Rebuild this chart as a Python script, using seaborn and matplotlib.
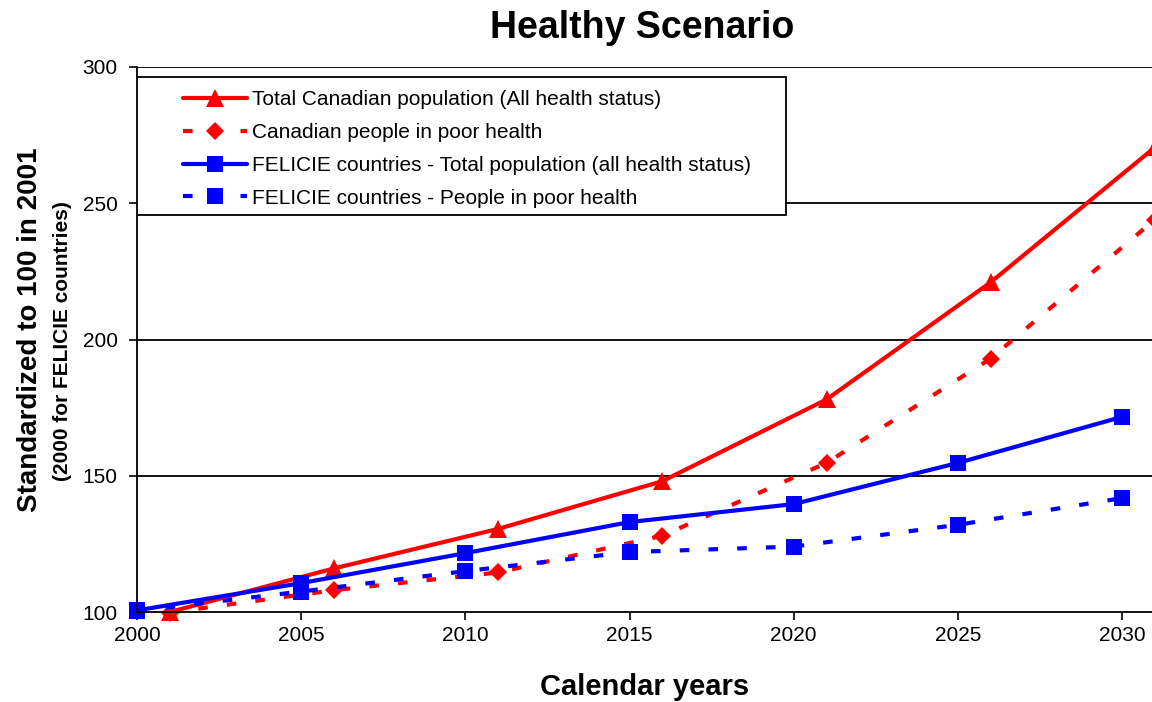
import numpy as np
import pandas as pd
import seaborn as sns
import matplotlib
matplotlib.use('Agg')
from matplotlib import pyplot as plt
from matplotlib.patches import Rectangle
from matplotlib.legend_handler import HandlerLine2D

# data
can_years = [2001, 2006, 2011, 2016, 2021, 2026, 2031]
fel_years = [2000, 2005, 2010, 2015, 2020, 2025, 2030]
can_total = [100.0, 116.0, 130.5, 148.0, 178.0, 221.0, 270.5]
can_poor = [99.8, 108.0, 114.5, 128.0, 154.7, 193.0, 244.0]
fel_total = [100.6, 110.6, 121.6, 133.0, 139.6, 154.7, 171.6]
fel_poor = [100.4, 107.5, 115.0, 122.0, 124.0, 132.0, 141.8]

labels = [
    'Total Canadian population (All health status)',
    'Canadian people in poor health',
    'FELICIE countries - Total population (all health status)',
    'FELICIE countries - People in poor health',
]
yticks = [100, 150, 200, 250, 300]
xticks = [2000, 2005, 2010, 2015, 2020, 2025, 2030]


class OffsetLineHandler(HandlerLine2D):
  # legend line starts a bit to the right of the handle box, like in Excel
  def __init__(self, offset, **kw):
    HandlerLine2D.__init__(self, **kw)
    self.offset = offset

  def get_xdata(self, legend, xdescent, ydescent, width, height, fontsize):
    x0 = -xdescent + self.offset
    x1 = -xdescent + width
    return [x0, x1], [0.5 * (x0 + x1)]


sns.set_style('white')
plt.rcParams['font.family'] = ['Liberation Sans', 'DejaVu Sans']
for k in ('text.color', 'axes.labelcolor', 'xtick.color', 'ytick.color'):
  plt.rcParams[k] = 'black'

W, H = 1152, 702
fig = plt.figure(figsize=(W / 100, H / 100), dpi=100)
# axes placed in pixels: 2000 at x=137, 2030 at x=1122; 100 at y=612, 300 at y=67
px_per_year = (1122 - 137) / 30.0
x_right = 2031.6
ax_w = (x_right - 2000) * px_per_year
ax = fig.add_axes([137 / W, (H - 612) / H, ax_w / W, (612 - 67) / H])

dash = (0, (2.3, 4.6))
series = [
    (can_years, can_total, 'red', '^', '-', 12.5),
    (can_years, can_poor, 'red', 'D', dash, 9),
    (fel_years, fel_total, 'blue', 's', '-', 11),
    (fel_years, fel_poor, 'blue', 's', dash, 11),
]
for (xs, ys, col, mk, ls, ms), lab in zip(series, labels):
  df = pd.DataFrame({'year': xs, 'value': ys})
  sns.lineplot(data=df, x='year', y='value', ax=ax, color=col, marker=mk,
               linestyle=ls, linewidth=3.0, markersize=ms,
               markeredgecolor=col, markeredgewidth=0, label=lab,
               clip_on=False)

ax.set_xlim(2000, x_right)
ax.set_ylim(100, 300)
ax.set_xticks(xticks)
ax.set_yticks(yticks)
ax.tick_params(axis='both', labelsize=15, direction='out', length=6,
               width=1.2, color='black', bottom=True, left=True)
ax.tick_params(axis='y', pad=8)
ax.tick_params(axis='x', pad=4)
for y in yticks[1:]:
  ax.axhline(y, color='black', lw=1.3, zorder=0.5)
for s in ('top', 'right'):
  ax.spines[s].set_visible(False)
for s in ('left', 'bottom'):
  ax.spines[s].set_color('black')
  ax.spines[s].set_linewidth(1.3)
ax.set_xlabel('')
ax.set_ylabel('')

# legend box drawn by hand at the reference position
box = Rectangle((137 / W, 1 - 215 / H), (786 - 137) / W, (215 - 77) / H,
                transform=fig.transFigure, facecolor='white',
                edgecolor='black', lw=1.3, zorder=4)
ax.add_patch(box)

leg_fs = 15
handles, labs = ax.get_legend_handles_labels()
leg = ax.legend(handles, labs, loc='upper left',
                bbox_to_anchor=(137 / W, 1 - 80 / H),
                bbox_transform=fig.transFigure, borderaxespad=0,
                fontsize=leg_fs, handlelength=4.78, handletextpad=0.24,
                labelspacing=0.66, borderpad=0.5, frameon=False,
                numpoints=1, markerscale=1.0,
                handler_map={h: OffsetLineHandler(25.6) for h in handles})
leg.set_zorder(5)

fig.text(642 / W, 1 - 38 / H, 'Healthy Scenario', ha='center',
         va='baseline', fontsize=27, fontweight='bold')
fig.text(645 / W, 1 - 695 / H, 'Calendar years', ha='center',
         va='baseline', fontsize=21, fontweight='bold')
fig.text(30 / W, 1 - 330 / H, 'Standardized to 100 in 2001', ha='center',
         va='center', rotation=90, fontsize=20, fontweight='bold')
fig.text(63 / W, 1 - 341 / H, '(2000 for FELICIE countries)', ha='center',
         va='center', rotation=90, fontsize=15, fontweight='bold')

fig.savefig('out.png', dpi=100)
